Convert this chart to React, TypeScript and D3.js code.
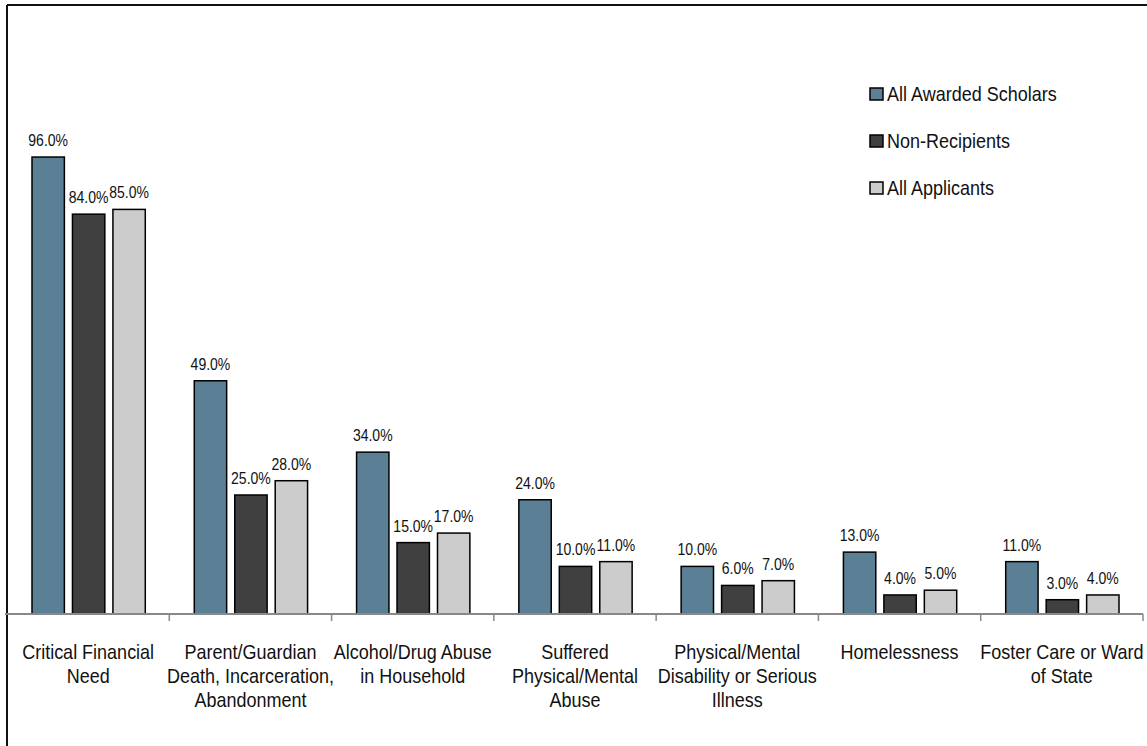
import React from 'react';
import * as d3 from 'd3';

// chart data
const categories: string[][] = [
  ['Critical Financial', 'Need'],
  ['Parent/Guardian', 'Death, Incarceration,', 'Abandonment'],
  ['Alcohol/Drug Abuse', 'in Household'],
  ['Suffered', 'Physical/Mental', 'Abuse'],
  ['Physical/Mental', 'Disability or Serious', 'Illness'],
  ['Homelessness'],
  ['Foster Care or Ward', 'of State'],
];
const seriesNames = ['All Awarded Scholars', 'Non-Recipients', 'All Applicants'];
const awarded = [96, 49, 34, 24, 10, 13, 11];
const nonRecipients = [84, 25, 15, 10, 6, 4, 3];
const allApplicants = [85, 28, 17, 11, 7, 5, 4];
const seriesColors = ['#5b7f95', '#404040', '#cccccc'];

const W = 1147;
const H = 746;
const FONT = '"Liberation Sans", Arial, sans-serif';

// text squeezed horizontally around its anchor point (the original font is a condensed Arial)
const Narrow: React.FC<{
  x: number;
  y: number;
  size: number;
  anchor?: 'start' | 'middle';
  sx: number;
  children: React.ReactNode;
}> = ({ x, y, size, anchor = 'middle', sx, children }) => (
  <g transform={`translate(${x},${y}) scale(${sx},1)`}>
    <text x={0} y={0} textAnchor={anchor} fontSize={size} fill="#111">
      {children}
    </text>
  </g>
);

const App: React.FC = () => {
  const values = [awarded, nonRecipients, allApplicants];
  const idx = categories.map((_, i) => String(i));

  const x0 = d3.scaleBand<string>().domain(idx).range([7, 1143]);
  const bw = x0.bandwidth();
  const x1 = d3.scaleBand<string>().domain(seriesNames).range([25, bw - 24]).paddingInner(0.2);
  const y = d3.scaleLinear().domain([0, 100]).range([614, 138]);

  return (
    <>
      <style>{'body{margin:0}'}</style>
      <svg width={W} height={H} style={{ display: 'block', background: '#fff' }} fontFamily={FONT}>
        {/* frame */}
        <line x1={7} y1={5} x2={W} y2={5} stroke="#111" strokeWidth={2} />
        <line x1={7} y1={5} x2={7} y2={H} stroke="#111" strokeWidth={2} />

        {/* bars */}
        {idx.map((c, i) => (
          <g key={c} transform={`translate(${x0(c)},0)`}>
            {seriesNames.map((s, j) => {
              const v = values[j][i];
              const bx = x1(s)!;
              return (
                <g key={s}>
                  <rect
                    x={bx}
                    y={y(v)}
                    width={x1.bandwidth()}
                    height={y(0) - y(v)}
                    fill={seriesColors[j]}
                    stroke="#000"
                    strokeWidth={1.5}
                  />
                  <Narrow x={bx + x1.bandwidth() / 2} y={y(v) - 11} size={16.5} sx={0.85}>
                    {v.toFixed(1)}%
                  </Narrow>
                </g>
              );
            })}
          </g>
        ))}

        {/* x axis */}
        <line x1={5} y1={614} x2={1143} y2={614} stroke="#888" strokeWidth={2} />
        {idx.map((c) => (
          <line key={c} x1={x0(c)! + bw} x2={x0(c)! + bw} y1={614} y2={621} stroke="#888" strokeWidth={1.5} />
        ))}
        {categories.map((lines, i) =>
          lines.map((ln, k) => (
            <Narrow key={`${i}-${k}`} x={x0(String(i))! + bw / 2} y={659 + k * 24} size={20} sx={0.9}>
              {ln}
            </Narrow>
          ))
        )}

        {/* legend */}
        {seriesNames.map((s, j) => (
          <g key={s} transform={`translate(870,${94 + j * 47})`}>
            <rect x={0} y={-6} width={13} height={12} fill={seriesColors[j]} stroke="#000" strokeWidth={1.5} />
            <Narrow x={17} y={7} size={20} anchor="start" sx={0.9}>
              {s}
            </Narrow>
          </g>
        ))}
      </svg>
    </>
  );
};

export default App;
